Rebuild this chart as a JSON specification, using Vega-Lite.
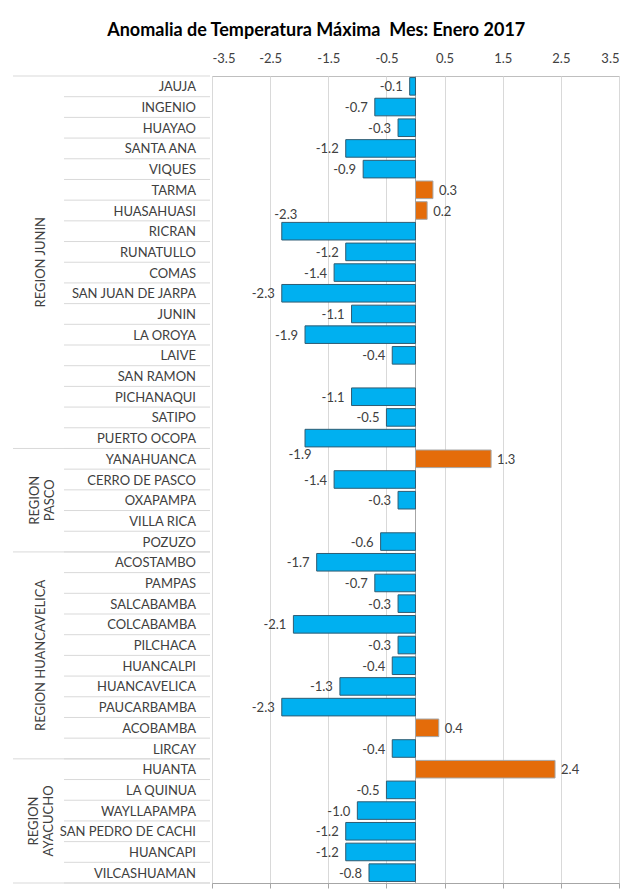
{
  "$schema": "https://vega.github.io/schema/vega-lite/v6.json",
  "padding": {"left": 12, "top": 21, "right": 5, "bottom": 0},
  "title": {"text": "Anomalia de Temperatura Máxima\u00a0\u00a0Mes: Enero 2017", "fontSize": 18, "fontWeight": "bold", "color": "#000000", "anchor": "middle", "offset": 12},
  "spacing": 0,
  "datasets": {
    "stations": [
      {"station": "JAUJA", "region": "REGION JUNIN", "value": -0.1},
      {"station": "INGENIO", "region": "REGION JUNIN", "value": -0.7},
      {"station": "HUAYAO", "region": "REGION JUNIN", "value": -0.3},
      {"station": "SANTA ANA", "region": "REGION JUNIN", "value": -1.2},
      {"station": "VIQUES", "region": "REGION JUNIN", "value": -0.9},
      {"station": "TARMA", "region": "REGION JUNIN", "value": 0.3},
      {"station": "HUASAHUASI", "region": "REGION JUNIN", "value": 0.2},
      {"station": "RICRAN", "region": "REGION JUNIN", "value": -2.3},
      {"station": "RUNATULLO", "region": "REGION JUNIN", "value": -1.2},
      {"station": "COMAS", "region": "REGION JUNIN", "value": -1.4},
      {"station": "SAN JUAN DE JARPA", "region": "REGION JUNIN", "value": -2.3},
      {"station": "JUNIN", "region": "REGION JUNIN", "value": -1.1},
      {"station": "LA OROYA", "region": "REGION JUNIN", "value": -1.9},
      {"station": "LAIVE", "region": "REGION JUNIN", "value": -0.4},
      {"station": "SAN RAMON", "region": "REGION JUNIN", "value": null},
      {"station": "PICHANAQUI", "region": "REGION JUNIN", "value": -1.1},
      {"station": "SATIPO", "region": "REGION JUNIN", "value": -0.5},
      {"station": "PUERTO OCOPA", "region": "REGION JUNIN", "value": -1.9},
      {"station": "YANAHUANCA", "region": "REGION PASCO", "value": 1.3},
      {"station": "CERRO DE PASCO", "region": "REGION PASCO", "value": -1.4},
      {"station": "OXAPAMPA", "region": "REGION PASCO", "value": -0.3},
      {"station": "VILLA RICA", "region": "REGION PASCO", "value": null},
      {"station": "POZUZO", "region": "REGION PASCO", "value": -0.6},
      {"station": "ACOSTAMBO", "region": "REGION HUANCAVELICA", "value": -1.7},
      {"station": "PAMPAS", "region": "REGION HUANCAVELICA", "value": -0.7},
      {"station": "SALCABAMBA", "region": "REGION HUANCAVELICA", "value": -0.3},
      {"station": "COLCABAMBA", "region": "REGION HUANCAVELICA", "value": -2.1},
      {"station": "PILCHACA", "region": "REGION HUANCAVELICA", "value": -0.3},
      {"station": "HUANCALPI", "region": "REGION HUANCAVELICA", "value": -0.4},
      {"station": "HUANCAVELICA", "region": "REGION HUANCAVELICA", "value": -1.3},
      {"station": "PAUCARBAMBA", "region": "REGION HUANCAVELICA", "value": -2.3},
      {"station": "ACOBAMBA", "region": "REGION HUANCAVELICA", "value": 0.4},
      {"station": "LIRCAY", "region": "REGION HUANCAVELICA", "value": -0.4},
      {"station": "HUANTA", "region": "REGION AYACUCHO", "value": 2.4},
      {"station": "LA QUINUA", "region": "REGION AYACUCHO", "value": -0.5},
      {"station": "WAYLLAPAMPA", "region": "REGION AYACUCHO", "value": -1.0},
      {"station": "SAN PEDRO DE CACHI", "region": "REGION AYACUCHO", "value": -1.2},
      {"station": "HUANCAPI", "region": "REGION AYACUCHO", "value": -1.2},
      {"station": "VILCASHUAMAN", "region": "REGION AYACUCHO", "value": -0.8}
    ]
  },
  "hconcat": [
    {
      "width": 197,
      "height": 807,
      "data": {"name": "stations"},
      "layer": [
        {
          "mark": {"type": "rule", "color": "#D9D9D9", "strokeWidth": 1},
          "encoding": {
            "y": {"field": "station", "type": "nominal", "bandPosition": 1,
              "scale": {"paddingInner": 0, "paddingOuter": 0, "domain": ["JAUJA","INGENIO","HUAYAO","SANTA ANA","VIQUES","TARMA","HUASAHUASI","RICRAN","RUNATULLO","COMAS","SAN JUAN DE JARPA","JUNIN","LA OROYA","LAIVE","SAN RAMON","PICHANAQUI","SATIPO","PUERTO OCOPA","YANAHUANCA","CERRO DE PASCO","OXAPAMPA","VILLA RICA","POZUZO","ACOSTAMBO","PAMPAS","SALCABAMBA","COLCABAMBA","PILCHACA","HUANCALPI","HUANCAVELICA","PAUCARBAMBA","ACOBAMBA","LIRCAY","HUANTA","LA QUINUA","WAYLLAPAMPA","SAN PEDRO DE CACHI","HUANCAPI","VILCASHUAMAN"]},
              "axis": null},
            "x": {"datum": 0.259, "type": "quantitative", "scale": {"domain": [0, 1], "nice": false, "zero": false}, "axis": null},
            "x2": {"datum": 1}
          }
        },
        {
          "transform": [{"filter": "indexof(['JAUJA','YANAHUANCA','ACOSTAMBO','HUANTA'], datum.station) >= 0"}],
          "mark": {"type": "rule", "color": "#D9D9D9", "strokeWidth": 1},
          "encoding": {
            "y": {"field": "station", "type": "nominal", "bandPosition": 0, "axis": null},
            "x": {"datum": 0, "type": "quantitative", "axis": null},
            "x2": {"datum": 1}
          }
        },
        {
          "transform": [{"filter": "datum.station == 'VILCASHUAMAN'"}],
          "mark": {"type": "rule", "color": "#D9D9D9", "strokeWidth": 1},
          "encoding": {
            "y": {"field": "station", "type": "nominal", "bandPosition": 1, "axis": null},
            "x": {"datum": 0, "type": "quantitative", "axis": null},
            "x2": {"datum": 1}
          }
        },
        {
          "mark": {"type": "text", "align": "right", "baseline": "middle", "fontSize": 13, "color": "#404040", "dy": 1},
          "encoding": {
            "y": {"field": "station", "type": "nominal", "axis": null},
            "x": {"datum": 0.929, "type": "quantitative", "axis": null},
            "text": {"field": "station"}
          }
        },
        {
          "transform": [{"filter": "datum.station == 'COMAS' || datum.station == 'HUANCALPI'"}],
          "mark": {"type": "text", "align": "center", "baseline": "middle", "angle": 270, "fontSize": 13, "color": "#404040"},
          "encoding": {
            "y": {"field": "station", "type": "nominal", "bandPosition": 0, "axis": null},
            "x": {"datum": 0.142, "type": "quantitative", "axis": null},
            "text": {"field": "region"}
          }
        },
        {
          "transform": [{"filter": "datum.station == 'OXAPAMPA'"}],
          "mark": {"type": "text", "align": "center", "baseline": "middle", "angle": 270, "fontSize": 13, "color": "#404040", "lineBreak": " ", "lineHeight": 15},
          "encoding": {
            "y": {"field": "station", "type": "nominal", "bandPosition": 0.5, "axis": null},
            "x": {"datum": 0.112, "type": "quantitative", "axis": null},
            "text": {"field": "region"}
          }
        },
        {
          "transform": [{"filter": "datum.station == 'SAN PEDRO DE CACHI'"}],
          "mark": {"type": "text", "align": "center", "baseline": "middle", "angle": 270, "fontSize": 13, "color": "#404040", "lineBreak": " ", "lineHeight": 15},
          "encoding": {
            "y": {"field": "station", "type": "nominal", "bandPosition": 0, "axis": null},
            "x": {"datum": 0.107, "type": "quantitative", "axis": null},
            "text": {"field": "region"}
          }
        }
      ]
    },
    {
      "width": 407,
      "height": 807,
      "view": {"stroke": "#BFBFBF", "strokeWidth": 1},
      "data": {"name": "stations"},
      "resolve": {"axis": {"x": "independent"}},
      "layer": [
        {
          "data": {"values": [{}]},
          "mark": {"type": "rule", "color": "#A6A6A6", "strokeWidth": 1},
          "encoding": {
            "x": {"datum": 0, "type": "quantitative",
              "scale": {"domain": [-3.5, 3.5], "nice": false, "zero": false},
              "axis": {"orient": "bottom", "values": [-3.5, -2.5, -1.5, -0.5, 0.5, 1.5, 2.5, 3.5], "labels": false, "grid": false, "ticks": true, "tickSize": 5, "tickColor": "#A6A6A6", "domain": true, "domainColor": "#A6A6A6", "title": null}}
          }
        },
        {
          "transform": [{"filter": "datum.value != null"}],
          "mark": {"type": "bar", "strokeWidth": 1},
          "encoding": {
            "y": {"field": "station", "type": "nominal",
              "scale": {"paddingInner": 0.15, "paddingOuter": 0.075, "domain": ["JAUJA","INGENIO","HUAYAO","SANTA ANA","VIQUES","TARMA","HUASAHUASI","RICRAN","RUNATULLO","COMAS","SAN JUAN DE JARPA","JUNIN","LA OROYA","LAIVE","SAN RAMON","PICHANAQUI","SATIPO","PUERTO OCOPA","YANAHUANCA","CERRO DE PASCO","OXAPAMPA","VILLA RICA","POZUZO","ACOSTAMBO","PAMPAS","SALCABAMBA","COLCABAMBA","PILCHACA","HUANCALPI","HUANCAVELICA","PAUCARBAMBA","ACOBAMBA","LIRCAY","HUANTA","LA QUINUA","WAYLLAPAMPA","SAN PEDRO DE CACHI","HUANCAPI","VILCASHUAMAN"]},
              "axis": null},
            "x": {"field": "value", "type": "quantitative",
              "scale": {"domain": [-3.5, 3.5], "nice": false, "zero": false},
              "axis": {"orient": "top", "values": [-3.5, -2.5, -1.5, -0.5, 0.5, 1.5, 2.5, 3.5], "format": ".1f", "grid": true, "gridColor": "#D9D9D9", "ticks": false, "domain": false, "labelPadding": 11, "labelFontSize": 13, "labelColor": "#404040", "title": null}},
            "color": {"condition": {"test": "datum.value > 0", "value": "#E46C0A"}, "value": "#00B0F0"},
            "stroke": {"condition": {"test": "datum.value > 0", "value": "#A6A6A6"}, "value": "#2F5C73"}
          }
        },
        {
          "transform": [{"filter": "datum.value < 0 && datum.station != 'RICRAN' && datum.station != 'PUERTO OCOPA'"}],
          "mark": {"type": "text", "align": "right", "baseline": "middle", "dx": -7, "dy": 1, "fontSize": 13, "color": "#404040"},
          "encoding": {
            "y": {"field": "station", "type": "nominal", "axis": null},
            "x": {"field": "value", "type": "quantitative", "axis": null},
            "text": {"field": "value", "type": "quantitative", "format": ".1f"}
          }
        },
        {
          "transform": [{"filter": "datum.value > 0"}],
          "mark": {"type": "text", "align": "left", "baseline": "middle", "dx": 6, "dy": 1, "fontSize": 13, "color": "#404040"},
          "encoding": {
            "y": {"field": "station", "type": "nominal", "axis": null},
            "x": {"field": "value", "type": "quantitative", "axis": null},
            "text": {"field": "value", "type": "quantitative", "format": ".1f"}
          }
        },
        {
          "transform": [{"filter": "datum.station == 'RICRAN'"}],
          "mark": {"type": "text", "align": "center", "baseline": "middle", "dx": 4, "dy": -16, "fontSize": 13, "color": "#404040"},
          "encoding": {
            "y": {"field": "station", "type": "nominal", "axis": null},
            "x": {"field": "value", "type": "quantitative", "axis": null},
            "text": {"field": "value", "type": "quantitative", "format": ".1f"}
          }
        },
        {
          "transform": [{"filter": "datum.station == 'PUERTO OCOPA'"}],
          "mark": {"type": "text", "align": "center", "baseline": "middle", "dx": -5, "dy": 17, "fontSize": 13, "color": "#404040"},
          "encoding": {
            "y": {"field": "station", "type": "nominal", "axis": null},
            "x": {"field": "value", "type": "quantitative", "axis": null},
            "text": {"field": "value", "type": "quantitative", "format": ".1f"}
          }
        }
      ]
    }
  ],
  "config": {
    "font": "Lato",
    "view": {"stroke": null},
    "locale": {"number": {"decimal": ".", "thousands": ",", "grouping": [3], "currency": ["$", ""], "minus": "-"}}
  }
}
